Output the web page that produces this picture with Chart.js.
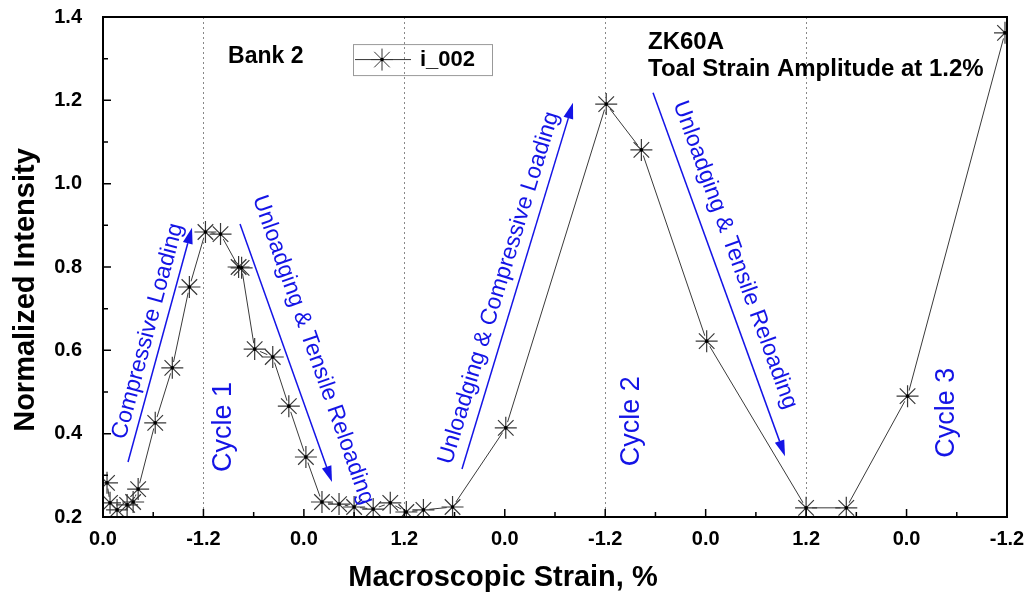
<!DOCTYPE html>
<html>
<head>
<meta charset="utf-8">
<title>ZK60A Bank 2 normalized intensity</title>
<script src="https://cdn.jsdelivr.net/npm/chart.js@4.4.0/dist/chart.umd.min.js"></script>
<style>
    html, body { margin: 0; padding: 0; background: #fff; }
    #wrap { position: relative; width: 1029px; height: 594px; }
</style>
</head>
<body>
<div id="wrap"><canvas id="strain_chart"></canvas></div>
<script>
// position along the loading path, 1 unit = 1.2 % strain change
const loadPath = [0.04, 0.07, 0.14, 0.24, 0.30, 0.35, 0.52, 0.69, 0.86, 1.02, 1.17, 1.35, 1.38, 1.51, 1.69, 1.85, 2.02,
    2.18, 2.35, 2.50, 2.69, 2.86, 3.02, 3.19, 3.48, 4.01, 5.01, 5.36, 6.01, 7.00, 7.40, 8.01, 8.98];
const intensity = [0.282, 0.234, 0.217, 0.229, 0.236, 0.267, 0.426, 0.558, 0.752, 0.884, 0.879, 0.800, 0.798, 0.603, 0.584, 0.466, 0.344,
    0.236, 0.231, 0.224, 0.219, 0.234, 0.212, 0.217, 0.224, 0.414, 1.191, 1.081, 0.622, 0.222, 0.222, 0.490, 1.362];
const strainLabels = ['0.0', '-1.2', '0.0', '1.2', '0.0', '-1.2', '0.0', '1.2', '0.0', '-1.2'];
const turnPoints = [1, 3, 5, 7];
const seriesName = 'i_002';

const FONT = "'Liberation Sans', Arial, sans-serif";
const BLUE = '#1414e6';

const points = loadPath.map((x, i) => ({x: x, y: intensity[i]}));

// annotations, anchored in data coordinates
const arrows = [
    {from: [0.249, 0.332], to: [0.886, 0.894]},
    {from: [1.364, 0.903], to: [2.280, 0.284]},
    {from: [3.574, 0.315], to: [4.679, 1.194]},
    {from: [5.476, 1.218], to: [6.790, 0.346]}
];
const notes = [
    {text: 'Compressive Loading', at: [0.448, 0.646], rot: -75, size: 23},
    {text: 'Unloadging & Tensile Reloading', at: [2.091, 0.601], rot: 70.5, size: 23},
    {text: 'Unloadging & Compressive Loading', at: [3.943, 0.750], rot: -73, size: 23},
    {text: 'Unloadging & Tensile Reloading', at: [6.292, 0.829], rot: 70, size: 23},
    {text: 'Cycle 1', at: [1.205, 0.416], rot: -90, size: 27},
    {text: 'Cycle 2', at: [5.267, 0.430], rot: -90, size: 27},
    {text: 'Cycle 3', at: [8.403, 0.450], rot: -90, size: 27}
];

const frame = {
    id: 'frame',
    afterDatasetsDraw(chart) {
        const {ctx, chartArea: a, scales: {x, y}} = chart;
        ctx.save();
        ctx.strokeStyle = '#000';
        ctx.lineWidth = 1.5;
        ctx.beginPath();
        for (let i = 0; i <= 18; i++) {
            const px = x.getPixelForValue(i / 2);
            const len = i % 2 === 0 ? 8 : 5;
            ctx.moveTo(px, a.bottom);
            ctx.lineTo(px, a.bottom - len);
        }
        for (let i = 2; i <= 14; i++) {
            const py = y.getPixelForValue(i / 10);
            const len = i % 2 === 0 ? 8 : 5;
            ctx.moveTo(a.left, py);
            ctx.lineTo(a.left + len, py);
        }
        ctx.stroke();
        ctx.lineWidth = 2;
        ctx.strokeRect(a.left, a.top, a.right - a.left, a.bottom - a.top);
        ctx.restore();
    }
};

const notesPlugin = {
    id: 'notes',
    afterDraw(chart) {
        const {ctx, chartArea: area, scales: {x, y}} = chart;
        const px = (p) => [x.getPixelForValue(p[0]), y.getPixelForValue(p[1])];
        ctx.save();

        // axis titles
        ctx.fillStyle = '#000';
        ctx.textAlign = 'center';
        ctx.textBaseline = 'middle';
        ctx.font = 'bold 29px ' + FONT;
        ctx.fillText('Macroscopic Strain, %', area.left + 400, area.bottom + 61);
        ctx.save();
        ctx.translate(26, area.top + 273);
        ctx.rotate(-Math.PI / 2);
        ctx.fillText('Normalized Intensity', 0, 0);
        ctx.restore();

        // blue arrows
        ctx.strokeStyle = BLUE;
        ctx.fillStyle = BLUE;
        ctx.lineWidth = 1.5;
        arrows.forEach((arw) => {
            const [x1, y1] = px(arw.from);
            const [x2, y2] = px(arw.to);
            const ang = Math.atan2(y2 - y1, x2 - x1);
            const head = 16, half = 5;
            ctx.beginPath();
            ctx.moveTo(x1, y1);
            ctx.lineTo(x2 - Math.cos(ang) * head, y2 - Math.sin(ang) * head);
            ctx.stroke();
            ctx.beginPath();
            ctx.moveTo(x2, y2);
            ctx.lineTo(x2 - Math.cos(ang) * head - Math.sin(ang) * half, y2 - Math.sin(ang) * head + Math.cos(ang) * half);
            ctx.lineTo(x2 - Math.cos(ang) * head + Math.sin(ang) * half, y2 - Math.sin(ang) * head - Math.cos(ang) * half);
            ctx.closePath();
            ctx.fill();
        });

        // rotated blue notes
        notes.forEach((n) => {
            const [cx, cy] = px(n.at);
            ctx.save();
            ctx.translate(cx, cy);
            ctx.rotate(n.rot * Math.PI / 180);
            ctx.font = n.size + 'px ' + FONT;
            ctx.fillText(n.text, 0, 0);
            ctx.restore();
        });

        // black labels
        ctx.fillStyle = '#000';
        ctx.textAlign = 'left';
        ctx.font = 'bold 23px ' + FONT;
        let [bx, by] = px([1.245, 1.304]);
        ctx.fillText('Bank 2', bx, by);
        ctx.font = 'bold 24px ' + FONT;
        [bx, by] = px([5.426, 1.338]);
        ctx.fillText('ZK60A', bx, by);
        [bx, by] = px([5.426, 1.275]);
        ctx.fillText('Toal Strain Amplitude at 1.2%', bx, by);

        // legend box
        const [lx, ly] = px([2.489, 1.335]);
        ctx.strokeStyle = '#999';
        ctx.lineWidth = 1;
        ctx.strokeRect(lx + 0.5, ly + 0.5, 139, 31);
        ctx.strokeStyle = '#333';
        ctx.beginPath();
        ctx.moveTo(lx + 2, ly + 15.5);
        ctx.lineTo(lx + 58, ly + 15.5);
        ctx.stroke();
        Chart.helpers.drawPoint(ctx, {pointStyle: 'star', radius: 11, borderWidth: 1.2}, lx + 29, ly + 15.5);
        ctx.fillStyle = '#000';
        ctx.beginPath();
        ctx.arc(lx + 29, ly + 15.5, 1.8, 0, Math.PI * 2);
        ctx.fill();
        ctx.font = 'bold 22px ' + FONT;
        ctx.fillText(seriesName, lx + 67, ly + 16);
        ctx.restore();
    }
};

const ctx = document.getElementById('strain_chart').getContext('2d');
const strainChart = new Chart(ctx, {
    type: 'line',
    data: {
        datasets: [{
            label: 'path',
            data: points,
            borderColor: '#3a3a3a',
            borderWidth: 1,
            pointRadius: 0,
            order: 4
        }, {
            label: 'gap',
            data: points,
            showLine: false,
            pointRadius: 6,
            pointBackgroundColor: '#fff',
            pointBorderWidth: 0,
            pointBorderColor: '#fff',
            order: 3
        }, {
            label: seriesName,
            data: points,
            showLine: false,
            pointStyle: 'star',
            pointRadius: 11,
            pointBorderColor: '#383838',
            pointBorderWidth: 1.2,
            order: 2
        }, {
            label: 'dot',
            data: points,
            showLine: false,
            pointRadius: 1.8,
            pointBackgroundColor: '#000',
            pointBorderWidth: 0,
            order: 1
        }]
    },
    options: {
        responsive: true,
        maintainAspectRatio: false,
        animation: false,
        layout: {padding: {left: 0, right: 22, top: 17, bottom: 0}},
        scales: {
            x: {
                type: 'linear',
                min: 0,
                max: 9,
                // in v4 the dash of grid lines comes from border.dash
                border: {display: false, dash: [2, 3]},
                grid: {
                    drawTicks: false,
                    lineWidth: 1,
                    color: (c) => turnPoints.includes(c.tick && c.tick.value) ? '#888' : 'rgba(0,0,0,0)'
                },
                ticks: {
                    stepSize: 1,
                    autoSkip: false,
                    maxRotation: 0,
                    padding: 10,
                    color: '#000',
                    font: {family: FONT, size: 20, weight: 'bold'},
                    callback: (v) => strainLabels[Math.round(v)]
                },
                afterFit: (scale) => {
                    scale.height = 77;
                    scale.paddingLeft = 0;
                    scale.paddingRight = 0;
                }
            },
            y: {
                min: 0.2,
                max: 1.4,
                border: {display: false},
                grid: {display: false},
                ticks: {
                    stepSize: 0.2,
                    padding: 13,
                    color: '#000',
                    font: {family: FONT, size: 20, weight: 'bold'},
                    callback: (v) => v.toFixed(1)
                },
                afterFit: (scale) => {
                    scale.width = 103;
                    scale.paddingTop = 0;
                    scale.paddingBottom = 0;
                }
            }
        },
        plugins: {
            legend: {display: false},
            tooltip: {enabled: false}
        }
    },
    plugins: [frame, notesPlugin]
});
</script>
</body>
</html>
